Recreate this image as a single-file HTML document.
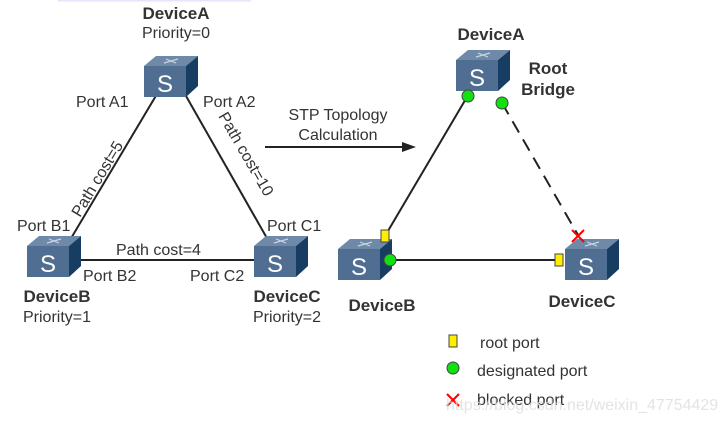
<!DOCTYPE html>
<html><head><meta charset="utf-8"><style>
html,body{margin:0;padding:0;background:#fff;}
svg{display:block;font-family:"Liberation Sans",Arial,sans-serif;}
</style></head><body>
<svg width="725" height="423" viewBox="0 0 725 423" xmlns="http://www.w3.org/2000/svg">
<defs>
<g id="sw">
<polygon points="0,10 12,0 54,0 42,10" fill="#6f8aa8"/>
<rect x="0" y="10" width="42" height="31" fill="#4f6e92"/>
<polygon points="42,10 54,0 54,30 42,41" fill="#173d62"/>
<path d="M20,7 L34,3 M22,3 L32,7" stroke="#c8d4e0" stroke-width="1.2" fill="none"/>
<text x="21" y="36" font-size="24" fill="#fff" text-anchor="middle" font-family="Liberation Sans,sans-serif">S</text>
</g>
</defs>
<rect x="58" y="0" width="193" height="1.5" fill="#e6e6fa"/>
<g stroke="#222" stroke-width="2">
<line x1="157" y1="94" x2="70" y2="240"/>
<line x1="186" y1="96" x2="268" y2="240"/>
<line x1="80" y1="260" x2="256" y2="260"/>
</g>
<use href="#sw" x="144" y="56"/>
<use href="#sw" x="27" y="236"/>
<use href="#sw" x="254" y="236"/>
<g font-size="16" fill="#333">
<text x="176" y="19" font-weight="bold" text-anchor="middle" font-size="17">DeviceA</text>
<text x="176" y="38" text-anchor="middle">Priority=0</text>
<text x="76" y="107">Port A1</text>
<text x="203" y="107">Port A2</text>
<text x="17" y="231">Port B1</text>
<text x="267" y="231">Port C1</text>
<text x="116" y="255">Path cost=4</text>
<text x="83" y="281">Port B2</text>
<text x="190" y="281">Port C2</text>
<text x="57" y="302" font-weight="bold" text-anchor="middle" font-size="17">DeviceB</text>
<text x="57" y="322" text-anchor="middle">Priority=1</text>
<text x="287" y="302" font-weight="bold" text-anchor="middle" font-size="17">DeviceC</text>
<text x="287" y="322" text-anchor="middle">Priority=2</text>
<text transform="translate(80,218) rotate(-59)">Path cost=5</text>
<text transform="translate(218,116) rotate(60)">Path cost=10</text>
<text x="338" y="120" text-anchor="middle">STP Topology</text>
<text x="338" y="140" text-anchor="middle">Calculation</text>
</g>
<line x1="265" y1="147" x2="405" y2="147" stroke="#222" stroke-width="2"/>
<polygon points="416,147 402,142 402,152" fill="#222"/>
<g stroke="#222" stroke-width="2">
<line x1="385" y1="236" x2="467" y2="97"/>
<line x1="392" y1="260" x2="560" y2="260"/>
<line x1="502" y1="103" x2="578" y2="235" stroke-dasharray="13,8"/>
</g>
<use href="#sw" x="456" y="50"/>
<use href="#sw" x="338" y="239"/>
<use href="#sw" x="565" y="239"/>
<g stroke="#444" stroke-width="1">
<circle cx="468" cy="96" r="6" fill="#11e011"/>
<circle cx="502" cy="103" r="6" fill="#11e011"/>
<circle cx="390" cy="260" r="6" fill="#11e011"/>
<rect x="381" y="230" width="8" height="12" fill="#ffee00"/>
<rect x="555" y="254" width="8" height="12" fill="#ffee00"/>
<rect x="449" y="335" width="8" height="12" fill="#ffee00"/>
<circle cx="453" cy="368" r="6" fill="#11e011"/>
</g>
<g stroke="#f00" stroke-width="2">
<line x1="572" y1="230" x2="584" y2="242"/><line x1="584" y1="230" x2="572" y2="242"/>
<line x1="447" y1="394" x2="459" y2="406"/><line x1="459" y1="394" x2="447" y2="406"/>
</g>
<g font-size="16" fill="#333">
<text x="491" y="40" font-weight="bold" text-anchor="middle" font-size="17">DeviceA</text>
<text x="548" y="74" font-weight="bold" text-anchor="middle" font-size="17">Root</text>
<text x="548" y="95" font-weight="bold" text-anchor="middle" font-size="17">Bridge</text>
<text x="382" y="311" font-weight="bold" text-anchor="middle" font-size="17">DeviceB</text>
<text x="582" y="307" font-weight="bold" text-anchor="middle" font-size="17">DeviceC</text>
<text x="480" y="348">root port</text>
<text x="477" y="376">designated port</text>
<text x="477" y="405">blocked port</text>
</g>
<text x="446" y="410" font-size="16" fill="#ddd" opacity="0.8">https://blog.csdn.net/weixin_47754429</text>
</svg>
</body></html>
